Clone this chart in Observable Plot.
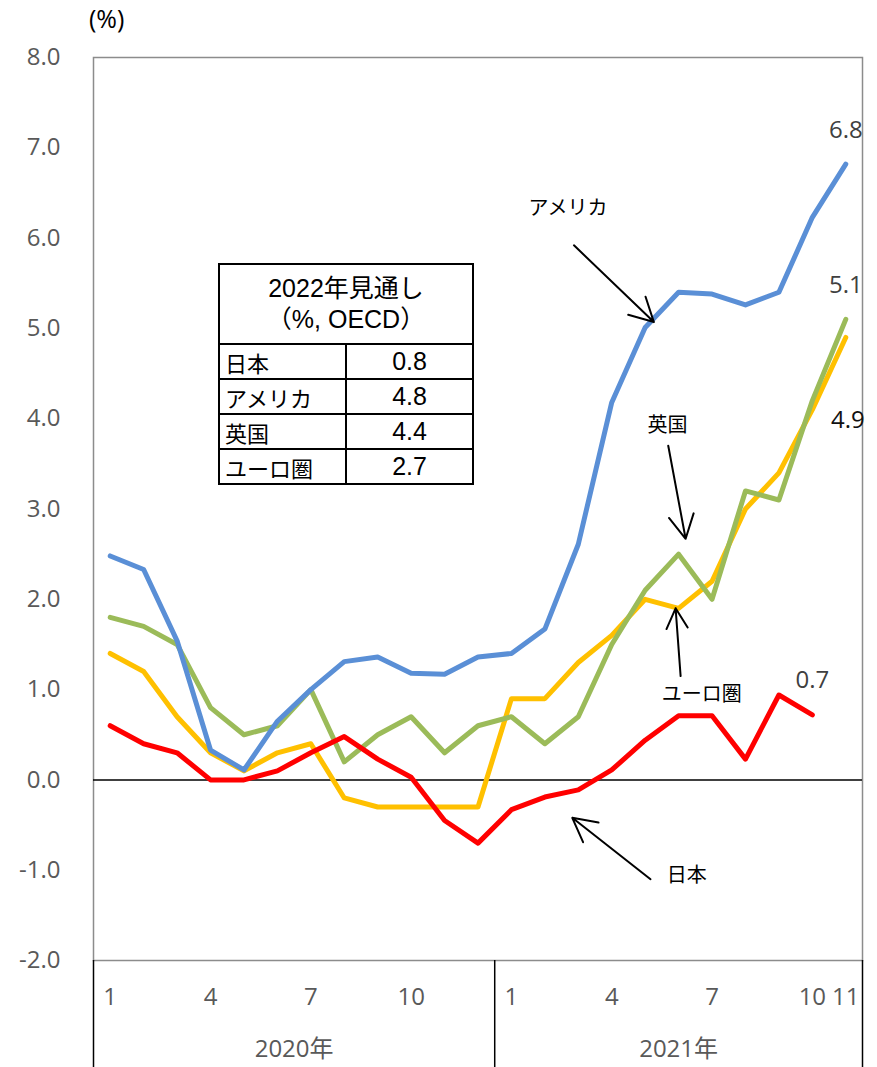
<!DOCTYPE html>
<html><head><meta charset="utf-8">
<script src="https://cdn.jsdelivr.net/npm/d3@7"></script>
<script src="https://cdn.jsdelivr.net/npm/@observablehq/plot@0.6"></script>
<style>
body{margin:0;background:#fff;}
#wrap{position:relative;width:877px;height:1067px;overflow:hidden;}
#unit{position:absolute;left:89px;top:3px;font-family:"Open Sans",sans-serif;font-size:25px;color:#000;line-height:1.2;}
#tbl{position:absolute;left:218px;top:263px;width:254px;border-collapse:collapse;table-layout:fixed;font-family:"Liberation Sans","Noto Sans CJK JP",sans-serif;color:#000;background:#fff;}
#tbl td{border:2px solid #000;padding:0;}
#tbl td.ttl{height:78px;text-align:center;line-height:31px;font-size:25px;}
#tbl td.nm{height:33px;text-align:left;padding-left:5px;font-size:22px;}
#tbl td.vl{height:33px;text-align:center;font-size:25px;}
</style></head><body><div id="wrap"></div>
<script>
// month index 0..22 = 2020-01 .. 2021-11
const monthTicks = [0, 3, 6, 9, 12, 15, 18, 21, 22];
const monthTickLabels = ["1", "4", "7", "10", "1", "4", "7", "10", "11"];
const years = ["2020年", "2021年"];
const yearCenters = [5.5, 17];
const yearDividers = [-0.5, 11.5, 22.5];

const japan = [0.6, 0.4, 0.3, 0.0, 0.0, 0.1, 0.3, 0.48, 0.23, 0.03, -0.45, -0.70, -0.33, -0.19, -0.11, 0.11, 0.44, 0.71, 0.71, 0.23, 0.94, 0.72];
const usa   = [2.48, 2.33, 1.54, 0.33, 0.11, 0.65, 1.0, 1.31, 1.36, 1.18, 1.17, 1.36, 1.40, 1.67, 2.61, 4.18, 5.01, 5.40, 5.38, 5.26, 5.40, 6.23, 6.82];
const uk    = [1.8, 1.7, 1.5, 0.8, 0.5, 0.6, 1.0, 0.2, 0.5, 0.7, 0.3, 0.6, 0.7, 0.4, 0.7, 1.5, 2.1, 2.5, 2.0, 3.2, 3.1, 4.2, 5.1];
const euro  = [1.4, 1.2, 0.7, 0.3, 0.1, 0.3, 0.4, -0.2, -0.3, -0.3, -0.3, -0.3, 0.9, 0.9, 1.3, 1.6, 2.0, 1.9, 2.2, 3.0, 3.4, 4.1, 4.9];

const yTicks = [-2, -1, 0, 1, 2, 3, 4, 5, 6, 7, 8];

// annotation labels and arrows (data units: month index, %)
const annoLabels = [
  {text: "アメリカ", i: 13.69, v: 6.33},
  {text: "英国", i: 16.67, v: 3.92},
  {text: "ユーロ圏", i: 17.69, v: 0.95},
  {text: "日本", i: 17.24, v: -1.06}
];
const annoArrows = [
  {i1: 13.87, v1: 5.92, i2: 16.26, v2: 5.07},
  {i1: 16.69, v1: 3.70, i2: 17.21, v2: 2.67},
  {i1: 17.06, v1: 1.15, i2: 16.91, v2: 1.90},
  {i1: 16.16, v1: -1.10, i2: 13.82, v2: -0.42}
];

// table
const tableTitle = ["2022年見通し", "（%, OECD）"];
const tableRegions = ["日本", "アメリカ", "英国", "ユーロ圏"];
const tableValues = ["0.8", "4.8", "4.4", "2.7"];

const toRows = arr => arr.map((v, i) => ({i, v}));
const numFont = '"Open Sans", "Noto Sans CJK JP", sans-serif';
const jpFont = '"Noto Sans CJK JP", sans-serif';

const chart = Plot.plot({
  width: 877,
  height: 1067,
  marginTop: 57,
  marginBottom: 107,
  marginLeft: 93,
  marginRight: 15,
  style: {fontFamily: numFont, fontSize: "24px", background: "#fff", overflow: "visible"},
  x: {domain: [-0.5, 22.5], axis: null},
  y: {domain: [-2, 8]},
  marks: [
    Plot.frame({stroke: "#8c8c8c", strokeWidth: 1.5}),
    Plot.axisY({ticks: yTicks, tickFormat: d => d.toFixed(1), tickSize: 0, tickPadding: 33, fontSize: 24, fill: "#595959", label: null}),
    Plot.ruleX(yearDividers, {y1: -2, y2: -3.3, stroke: "#000", strokeWidth: 1.5}),
    Plot.ruleY([0], {stroke: "#000", strokeWidth: 1.5}),
    Plot.text(monthTicks, {x: d => d, y: -2, text: (d, k) => monthTickLabels[k], dy: 37, fill: "#595959", fontSize: 24}),
    Plot.text(years, {x: (d, k) => yearCenters[k], y: -2, text: d => d, dy: 89, fill: "#595959", fontSize: 24}),
    Plot.line(toRows(euro), {x: "i", y: "v", stroke: "#FFC000", strokeWidth: 5, strokeLinejoin: "round", strokeLinecap: "round"}),
    Plot.line(toRows(uk), {x: "i", y: "v", stroke: "#9BBB59", strokeWidth: 5, strokeLinejoin: "round", strokeLinecap: "round"}),
    Plot.line(toRows(usa), {x: "i", y: "v", stroke: "#5A8FD6", strokeWidth: 5, strokeLinejoin: "round", strokeLinecap: "round"}),
    Plot.line(toRows(japan), {x: "i", y: "v", stroke: "#FF0000", strokeWidth: 5, strokeLinejoin: "round", strokeLinecap: "round"}),
    Plot.text([usa.length - 1], {x: d => d, y: d => usa[d], text: d => usa[d].toFixed(1), dy: -34, fill: "#404040", fontSize: 24}),
    Plot.text([uk.length - 1], {x: d => d, y: d => uk[d], text: d => uk[d].toFixed(1), dy: -34, fill: "#404040", fontSize: 24}),
    Plot.text([euro.length - 1], {x: d => d, y: d => euro[d], text: d => euro[d].toFixed(1), dy: 83, dx: 2, fill: "#111", fontSize: 24}),
    Plot.text([japan.length - 1], {x: d => d, y: d => japan[d], text: d => japan[d].toFixed(1), dy: -35, fill: "#404040", fontSize: 24}),
    Plot.arrow(annoArrows, {x1: "i1", y1: "v1", x2: "i2", y2: "v2", stroke: "#000", strokeWidth: 2, headLength: 20, headAngle: 56}),
    Plot.text(annoLabels, {x: "i", y: "v", text: "text", fontFamily: jpFont, fontSize: 20, fill: "#000"})
  ]
});

const wrap = document.getElementById("wrap");
wrap.appendChild(chart);

const unit = document.createElement("div");
unit.id = "unit";
unit.textContent = "(%)";
wrap.appendChild(unit);

const tbl = document.createElement("table");
tbl.id = "tbl";
const cg = document.createElement("colgroup");
cg.innerHTML = '<col style="width:127px"><col style="width:127px">';
tbl.appendChild(cg);
const tr0 = document.createElement("tr");
const th = document.createElement("td");
th.className = "ttl";
th.colSpan = 2;
th.innerHTML = tableTitle.join("<br>");
tr0.appendChild(th);
tbl.appendChild(tr0);
tableRegions.forEach((r, k) => {
  const tr = document.createElement("tr");
  const a = document.createElement("td"); a.className = "nm"; a.textContent = r;
  const b = document.createElement("td"); b.className = "vl"; b.textContent = tableValues[k];
  tr.appendChild(a); tr.appendChild(b);
  tbl.appendChild(tr);
});
wrap.appendChild(tbl);
</script>
</body></html>
